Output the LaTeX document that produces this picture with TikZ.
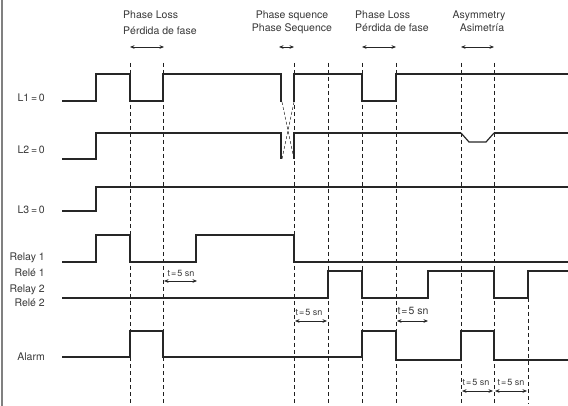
\documentclass[tikz,border=0pt]{standalone}
\usepackage{fontspec}
\setmainfont{TeX Gyre Heros}
\definecolor{sigblack}{gray}{0.15}
\definecolor{markgray}{gray}{0.12}
\definecolor{framegray}{gray}{0.5}
\definecolor{labgray}{gray}{0.22}
\usetikzlibrary{arrows.meta}
\tikzset{
  sig/.style={sigblack,line width=1.2pt,line join=miter},
  markln/.style={markgray,line width=0.6pt,dash pattern=on 4pt off 3pt},
  swapln/.style={markgray,line width=0.5pt,dash pattern=on 3pt off 2pt},
  durarr/.style={{Stealth[length=4.5pt,width=3.6pt]}-{Stealth[length=4.5pt,width=3.6pt]},sigblack,line width=0.7pt},
  lab/.style={font=\fontsize{10.5}{12}\selectfont,text=labgray,inner sep=0pt},
  tlab/.style={font=\fontsize{9}{10}\selectfont,text=labgray,inner sep=0pt},
}

\begin{document}
\begin{tikzpicture}[x=1pt,y=-1pt]
  \useasboundingbox (0,0) rectangle (568,406);
  \draw[framegray,line width=1.5pt] (2,0)--(2,406);
  % olay cizgileri
  \foreach \x in {130,163,294,328,362,396,461,494}{%
    \draw[markln] (\x,63)--(\x,404);}
  \draw[markln] (528,298)--(528,404);
  % sinyal etiketleri
  \foreach \y/\n/\t in {102/lL1/{L1\,=\,0},154/lL2/{L2\,=\,0},214/lL3/{L3\,=\,0},
      261/lRa/{Relay 1},277/lRb/{Relé 1},293/lRc/{Relay 2},307/lRd/{Relé 2},360/lAl/{Alarm}}{%
    \node[lab,anchor=base east] (\n) at (45,\y) {\t};}
  % sinyaller
  \draw[sig] (62,101) -| (96,74) -| (130,101) -| (163,74) -| (281,102);
  \draw[sig] (294,102) -- (294,74) -| (362,101) -| (396,74) -- (568,74);
  \draw[sig] (62,159) -| (96,133) -| (281,159);
  \draw[sig] (294,159) -- (294,133) -- (461,133);
  \draw[sig] (461,133) -- (469,142) -- (486,142) -- (494,133);
  \draw[sig] (494,133) -- (568,133);
  \draw[swapln] (282,102)--(294,159);
  \draw[swapln] (294,102)--(282,159);
  \draw[sig] (62,211) -| (96,187) -- (568,187);
  \draw[sig] (62,262) -| (96,235) -| (130,262) -| (196,235) -| (294,262) -- (568,262);
  \draw[sig] (62,298) -| (328,271) -| (362,298) -| (428,271) -| (494,298) -| (528,271) -- (568,271);
  \draw[sig] (62,357) -| (130,331) -| (163,357) -| (362,331) -| (396,360) -| (461,331) -| (494,360) -- (568,360);
  % ust basliklar
  \node[lab,anchor=base west] (ploss) at (123,19) {Phase Loss};
  \node[lab,anchor=base west] (pperd) at (123,35) {Pérdida de fase};
  \node[lab,anchor=base] (pseq) at (292,19) {Phase squence};
  \node[lab,anchor=base] (pseqb) at (292,32) {Phase Sequence};
  \node[lab,anchor=base west] (plossb) at (355,19) {Phase Loss};
  \node[lab,anchor=base west] (pperdb) at (355,32) {Pérdida de fase};
  \node[lab,anchor=base] (asym) at (479,19) {Asymmetry};
  \node[lab,anchor=base] (asim) at (482,32) {Asimetría};
  \draw[durarr] (130,47)--(164,47);
  \draw[durarr] (279,47)--(294,47);
  \draw[durarr] (362,47)--(396,47);
  \draw[durarr] (461,47)--(494,47);
  % gecikme sureleri
  \node[tlab,anchor=base] (ta) at (181,277) {t\kern1pt=\kern1pt5 sn};
  \draw[durarr] (164,281)--(197,281);
  \node[tlab,anchor=base] (tb) at (309,316) {t\kern1pt=\kern1pt5 sn};
  \draw[durarr] (295,321)--(327,321);
  \node[tlab,font=\fontsize{10.5}{12}\selectfont,anchor=base] (tc) at (413,315) {t\kern1pt=\kern1pt5 sn};
  \draw[durarr] (397,321)--(428,321);
  \node[tlab,anchor=base] (td) at (476,385) {t\kern1pt=\kern1pt5 sn};
  \draw[durarr] (462,391)--(493,391);
  \node[tlab,anchor=base] (te) at (511,385) {t\kern1pt=\kern1pt5 sn};
  \draw[durarr] (495,391)--(527,391);
\end{tikzpicture}
\end{document}
